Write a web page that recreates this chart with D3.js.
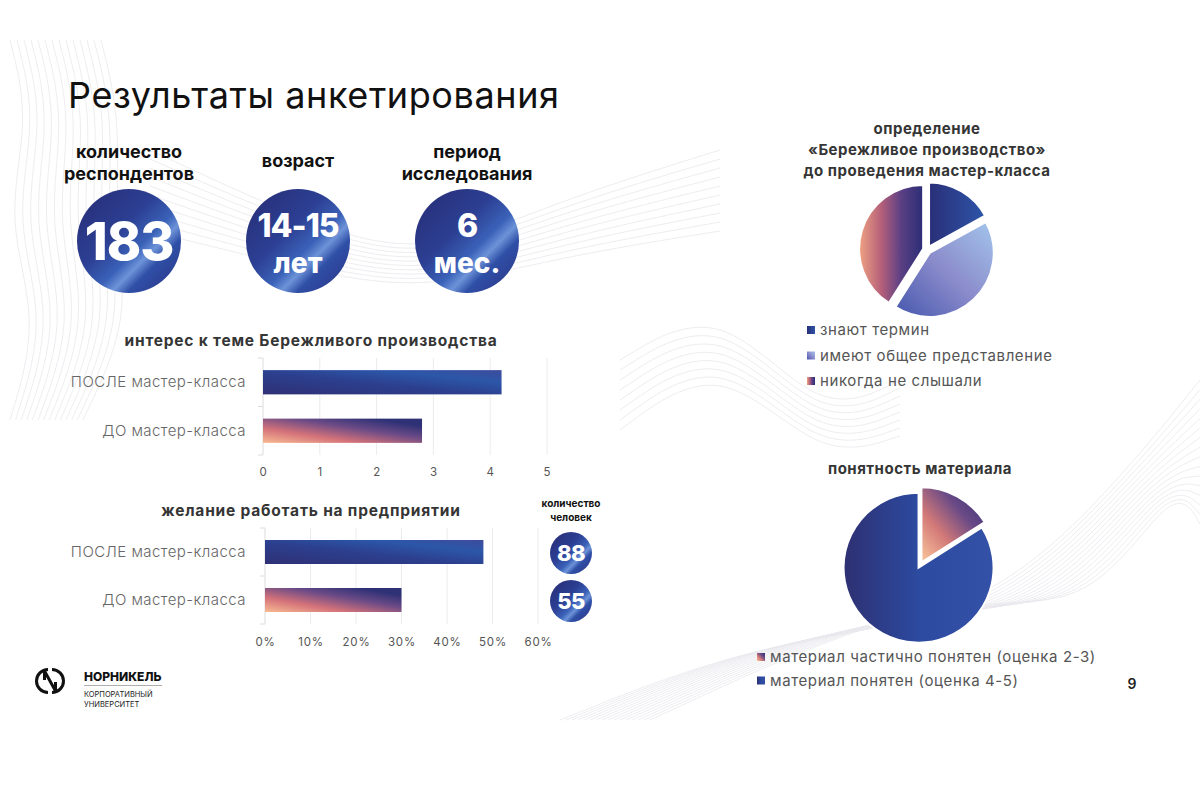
<!DOCTYPE html>
<html>
<head>
<meta charset="utf-8">
<script src="https://cdn.jsdelivr.net/npm/d3@7"></script>
<style>
  body { margin: 0; background: #fff; }
  svg { display: block; font-family: Inter, "Noto Sans", sans-serif; }
</style>
</head>
<body>
<svg id="chart" width="1200" height="800"></svg>
<script>
// ---- data ----
var statLabels = [["количество", "респондентов"], ["возраст"], ["период", "исследования"]];
var statValues = [["183"], ["14-15", "лет"], ["6", "мес."]];

var interestCats = ["ПОСЛЕ мастер-класса", "ДО мастер-класса"];
var interestVals = [4.2, 2.8];
var interestTicks = [0, 1, 2, 3, 4, 5];

var workCats = ["ПОСЛЕ мастер-класса", "ДО мастер-класса"];
var workVals = [0.48, 0.30];
var workTicks = [0, 0.1, 0.2, 0.3, 0.4, 0.5, 0.6];
var workCounts = [88, 55];

var termLabels = ["знают термин", "имеют общее представление", "никогда не слышали"];
var termVals = [17, 42, 41];

var clarityLabels = ["материал частично понятен (оценка 2-3)", "материал понятен (оценка 4-5)"];
var clarityVals = [16, 84];

var svg = d3.select("#chart");
var defs = svg.append("defs");

function grad(id, stops, x1, y1, x2, y2) {
    var g = defs.append("linearGradient").attr("id", id)
        .attr("x1", x1).attr("y1", y1).attr("x2", x2).attr("y2", y2);
    stops.forEach(function(s) {
        g.append("stop").attr("offset", s[0]).attr("stop-color", s[1]);
    });
}

grad("circGrad", [[0, "#272c74"], [0.4, "#2c3f93"], [0.58, "#3a62b8"], [0.66, "#6d93d8"], [0.74, "#2f4fa6"], [1, "#2a3182"]], 0, 0, 1, 1);
grad("afterGrad", [[0, "#2f3075"], [0.45, "#2c3f8e"], [0.75, "#2c57a9"], [1, "#3e4b9c"]], 0, 1, 1, 0);
grad("beforeGrad", [[0, "#f8bb92"], [0.3, "#d4727a"], [0.6, "#6a4a86"], [0.85, "#2e3176"], [1, "#2e3176"]], 0, 1, 1, 0);
grad("term0", [[0, "#2a2f78"], [1, "#2d55a8"]], 0, 0, 1, 0);
grad("term1", [[0, "#a3c5ec"], [0.5, "#8b8ccb"], [1, "#4657ae"]], 1, 0, 0, 1);
grad("term2", [[0, "#f0a282"], [0.35, "#b45f7a"], [0.65, "#5c4084"], [1, "#2a2d76"]], 0, 0, 1, 0);
grad("clar0", [[0, "#fbc79c"], [0.35, "#d27978"], [0.65, "#6a4a86"], [1, "#2c2e74"]], 0, 1, 1, 0);
grad("clar1", [[0, "#2e3072"], [0.5, "#2c4a9f"], [1, "#3451a8"]], 0, 0, 1, 0);

// ---- background contour lines (decoration) ----
var bg = svg.append("g").attr("fill", "none").attr("stroke", "#e8e8ee").attr("stroke-width", 0.8);
var lineGen = d3.line().curve(d3.curveBasis);
for (var i = 0; i < 14; i++) {
    var o = i * 7;
    bg.append("path").attr("d", lineGen([[10 + o, 40], [30 + o, 120], [5 + o * 1.2, 220], [40 + o, 320], [10 + o * 0.8, 420]]));
}
for (var j = 0; j < 10; j++) {
    var p = j * 9;
    bg.append("path").attr("d", lineGen([[150, 150 + p], [300, 220 + p * 0.6], [420, 260 + p * 0.4], [560, 200 + p * 0.7], [720, 150 + p]]));
}
for (var k = 0; k < 16; k++) {
    var q = k * 12;
    bg.append("path").attr("d", lineGen([[560 + q * 0.5, 720], [760 + q, 640 - q * 0.3], [980 + q * 0.6, 620], [1120 + q * 0.3, 480], [1200, 380 + q * 0.8]]));
}
for (var m = 0; m < 8; m++) {
    bg.append("path").attr("d", lineGen([[620, 360 + m * 10], [720, 300 + m * 8], [820, 420 + m * 6], [900, 380 + m * 8]]));
}

// ---- title ----
svg.append("text").attr("x", 68).attr("y", 108)
    .attr("font-size", 36).attr("fill", "#111").attr("letter-spacing", 0.6)
    .text("Результаты анкетирования");

// ---- stat circles ----
var statX = d3.scalePoint().domain([0, 1, 2]).range([129, 467]);
var stats = svg.selectAll(".stat").data(statValues).enter().append("g")
    .attr("class", "stat")
    .attr("transform", function(d, i) { return "translate(" + statX(i) + ",0)"; });

stats.append("text").attr("text-anchor", "middle").attr("font-size", 18).attr("font-weight", 700)
    .attr("fill", "#111")
    .selectAll("tspan").data(function(d, i) { return statLabels[i]; }).enter().append("tspan")
    .attr("x", 0)
    .attr("y", function(d, i, nodes) { return nodes.length === 1 ? 167 : 158 + i * 22; })
    .text(function(d) { return d; });

stats.append("circle").attr("cy", 241).attr("r", 52).attr("fill", "url(#circGrad)");

stats.each(function(d) {
    var g = d3.select(this);
    if (d.length === 1) {
        g.append("text").attr("text-anchor", "middle").attr("y", 260).attr("font-size", 52)
            .attr("font-weight", 800).attr("fill", "#fff").attr("letter-spacing", -1).text(d[0]);
    } else {
        g.append("text").attr("text-anchor", "middle").attr("y", 237).attr("font-size", 32)
            .attr("font-weight", 800).attr("fill", "#fff").attr("letter-spacing", -1).text(d[0]);
        g.append("text").attr("text-anchor", "middle").attr("y", 273).attr("font-size", 28)
            .attr("font-weight", 800).attr("fill", "#fff").text(d[1]);
    }
});

// ---- bar charts ----
function barChart(cfg) {
    var x = d3.scaleLinear().domain(cfg.domain).range(cfg.xRange);
    var y = d3.scaleBand().domain(cfg.cats).range(cfg.yRange).paddingInner(0.5).paddingOuter(0.25);
    var g = svg.append("g");

    g.append("text").attr("x", 311).attr("y", cfg.titleY).attr("text-anchor", "middle")
        .attr("font-size", 15.5).attr("font-weight", 700).attr("fill", "#353535").attr("letter-spacing", 0.8)
        .text(cfg.title);

    g.selectAll(".grid").data(cfg.ticks.slice(1)).enter().append("line")
        .attr("x1", function(d) { return x(d); }).attr("x2", function(d) { return x(d); })
        .attr("y1", cfg.yRange[0]).attr("y2", cfg.yRange[1])
        .attr("stroke", "#ececec");

    var x0 = x(cfg.domain[0]);
    g.append("line").attr("x1", x0).attr("x2", x0).attr("y1", cfg.yRange[0]).attr("y2", cfg.yRange[1])
        .attr("stroke", "#dcdcdc");
    g.selectAll(".ytick").data([cfg.yRange[0], (cfg.yRange[0] + cfg.yRange[1]) / 2, cfg.yRange[1]]).enter()
        .append("line").attr("x1", x0 - 5).attr("x2", x0).attr("y1", function(d) { return d; })
        .attr("y2", function(d) { return d; }).attr("stroke", "#dcdcdc");

    g.selectAll(".bar").data(cfg.vals).enter().append("rect")
        .attr("x", x0)
        .attr("y", function(d, i) { return y(cfg.cats[i]); })
        .attr("width", function(d) { return x(d) - x0; })
        .attr("height", y.bandwidth())
        .attr("fill", function(d, i) { return i === 0 ? "url(#afterGrad)" : "url(#beforeGrad)"; });

    g.selectAll(".cat").data(cfg.cats).enter().append("text")
        .attr("x", 246).attr("y", function(d) { return y(d) + y.bandwidth() / 2 + 5; })
        .attr("text-anchor", "end").attr("font-size", 15).attr("font-weight", 300)
        .attr("fill", "#666").attr("letter-spacing", 0.45)
        .text(function(d) { return d; });

    var axis = g.append("g").attr("transform", "translate(0," + cfg.axisY + ")")
        .call(d3.axisBottom(x).tickValues(cfg.ticks).tickSize(0).tickFormat(cfg.fmt));
    axis.select(".domain").remove();
    axis.selectAll("text").attr("font-family", "Inter, sans-serif").attr("font-size", 11.5)
        .attr("fill", "#555").attr("letter-spacing", 0.8);
    return { x: x, y: y };
}

barChart({
    title: "интерес к теме Бережливого производства", titleY: 346,
    cats: interestCats, vals: interestVals, ticks: interestTicks,
    domain: [0, 5], xRange: [263, 547], yRange: [358, 455], axisY: 465,
    fmt: d3.format("d")
});

var wc = barChart({
    title: "желание работать на предприятии", titleY: 516,
    cats: workCats, vals: workVals, ticks: workTicks,
    domain: [0, 0.6], xRange: [265, 538], yRange: [528, 624], axisY: 635,
    fmt: d3.format(".0%")
});

// people count circles
svg.append("text").attr("text-anchor", "middle").attr("font-size", 10).attr("font-weight", 700).attr("fill", "#111")
    .selectAll("tspan").data(["количество", "человек"]).enter().append("tspan")
    .attr("x", 571).attr("y", function(d, i) { return 507 + i * 14; }).text(function(d) { return d; });

var counts = svg.selectAll(".cnt").data(workCounts).enter().append("g")
    .attr("transform", function(d, i) {
        return "translate(571," + (wc.y(workCats[i]) + wc.y.bandwidth() / 2 + 1) + ")";
    });
counts.append("circle").attr("r", 21).attr("fill", "url(#circGrad)");
counts.append("text").attr("text-anchor", "middle").attr("y", 8).attr("font-size", 22)
    .attr("font-weight", 800).attr("fill", "#fff").attr("letter-spacing", -0.5)
    .text(function(d) { return d; });

// ---- pies ----
function pieChart(cfg) {
    var g = svg.append("g");
    g.append("text").attr("text-anchor", "middle").attr("font-size", 15).attr("font-weight", 700)
        .attr("fill", "#353535").attr("letter-spacing", 0.5)
        .selectAll("tspan").data(cfg.title).enter().append("tspan")
        .attr("x", cfg.cx).attr("y", function(d, i) { return cfg.titleY + i * 21; })
        .text(function(d) { return d; });

    var arcs = d3.pie().sort(null).value(function(d) { return d; })(cfg.vals);
    var arc = d3.arc().innerRadius(0).outerRadius(cfg.r);
    var pg = g.append("g").attr("transform", "translate(" + cfg.cx + "," + cfg.cy + ")");
    pg.selectAll("path").data(arcs).enter().append("path")
        .attr("d", arc)
        .attr("transform", function(d) {
            var a = (d.startAngle + d.endAngle) / 2;
            return "translate(" + (Math.sin(a) * cfg.explode) + "," + (-Math.cos(a) * cfg.explode) + ")";
        })
        .attr("fill", function(d, i) { return "url(#" + cfg.grads[i] + ")"; })
        .attr("stroke", "#fff").attr("stroke-width", 2);

    var lg = g.selectAll(".lg").data(cfg.labels).enter().append("g")
        .attr("transform", function(d, i) { return "translate(" + cfg.lx + "," + (cfg.ly + i * cfg.lstep) + ")"; });
    lg.append("rect").attr("x", 0).attr("y", -9).attr("width", 8).attr("height", 8)
        .attr("fill", function(d, i) { return "url(#" + cfg.grads[i] + ")"; });
    lg.append("text").attr("x", 13).attr("y", 0).attr("font-size", 15).attr("fill", "#555")
        .attr("letter-spacing", 0.6).text(function(d) { return d; });
}

pieChart({
    title: ["определение", "«Бережливое производство»", "до проведения мастер-класса"], titleY: 134,
    vals: termVals, labels: termLabels, grads: ["term0", "term1", "term2"],
    cx: 927, cy: 250, r: 64, explode: 4,
    lx: 807, ly: 335, lstep: 25.5
});

pieChart({
    title: ["понятность материала"], titleY: 474,
    vals: clarityVals, labels: clarityLabels, grads: ["clar0", "clar1"],
    cx: 920, cy: 565, r: 75, explode: 3,
    lx: 757, ly: 662, lstep: 23.5
});

// page number
svg.append("text").attr("x", 1132).attr("y", 689).attr("text-anchor", "middle")
    .attr("font-size", 14).attr("font-weight", 600).attr("fill", "#222").text("9");

// ---- logo ----
var logo = svg.append("g").attr("fill", "none").attr("stroke", "#111").attr("stroke-width", 3);
logo.append("path").attr("d", "M48,669.5 A11.5,11.5 0 0 0 48,692.5");
logo.append("path").attr("d", "M52,669.5 A11.5,11.5 0 0 1 52,692.5");
logo.append("path").attr("d", "M44.5,671 L44.5,680 M44.5,671 L55.5,691 M55.5,682 L55.5,691");
svg.append("text").attr("x", 84).attr("y", 681).attr("font-size", 12).attr("font-weight", 800)
    .attr("fill", "#111").text("НОРНИКЕЛЬ");
svg.append("line").attr("x1", 84).attr("x2", 162).attr("y1", 685.5).attr("y2", 685.5)
    .attr("stroke", "#999").attr("stroke-width", 0.8);
svg.append("text").attr("font-size", 7.5).attr("fill", "#222")
    .selectAll("tspan").data(["КОРПОРАТИВНЫЙ", "УНИВЕРСИТЕТ"]).enter().append("tspan")
    .attr("x", 84).attr("y", function(d, i) { return 697 + i * 10; }).text(function(d) { return d; });
</script>
</body>
</html>
